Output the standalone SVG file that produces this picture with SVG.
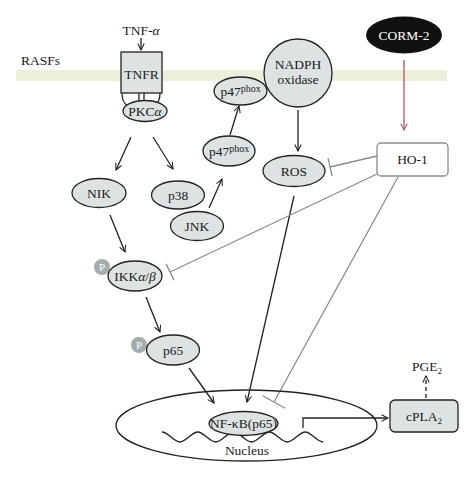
<svg xmlns="http://www.w3.org/2000/svg" width="474" height="478" viewBox="0 0 474 478">
<style>
text{font-family:"Liberation Serif","DejaVu Serif",serif;font-size:13.5px;fill:#1a1a1a;text-anchor:middle}
.n{fill:#dde3e2;stroke:#222;stroke-width:1.3}
.a{fill:none;stroke:#222;stroke-width:1.3;marker-end:url(#ah)}
.g{fill:none;stroke:#8c8c8c;stroke-width:1.3}
.sup{font-size:10px}
.p{fill:#a3adab}
.pt{fill:#fff;font-size:11px}
</style>
<defs>
<marker id="ah" viewBox="0 0 10 10" refX="9" refY="5" markerWidth="8" markerHeight="8" markerUnits="userSpaceOnUse" orient="auto">
<path d="M1,1 L9,5 L1,9" fill="none" stroke="#222" stroke-width="1.3"/>
</marker>
<marker id="ahr" viewBox="0 0 10 10" refX="9" refY="5" markerWidth="8" markerHeight="8" markerUnits="userSpaceOnUse" orient="auto">
<path d="M1,1 L9,5 L1,9" fill="none" stroke="#c0505a" stroke-width="1.3"/>
</marker>
</defs>
<rect id="membrane" x="16" y="70" width="431" height="11" fill="#edefdd"/>
<text x="21" y="65" style="text-anchor:start">RASFs</text>
<g id="connectors">
<path class="a" d="M141,38 V50"/>
<path class="a" d="M131,137 L116,170"/>
<path class="a" d="M153,137 L173,169"/>
<path class="a" d="M209,208 L222,179"/>
<path class="a" d="M230,135 L239,106"/>
<path class="a" d="M298,110 V151"/>
<path class="a" d="M110,215 L125,252"/>
<path class="a" d="M146,297 L160,332"/>
<path class="a" d="M189,368 L214,403"/>
<path class="a" d="M294,196 L247,402"/>
<path d="M404,60 V130" fill="none" stroke="#c0505a" stroke-width="1.3" marker-end="url(#ahr)"/>
<path class="g" d="M377,156 L330,167 M328,158.2 L332,175.8"/>
<path class="g" d="M377,174 L170,272 M166.1,263.9 L173.9,280.1"/>
<path class="g" d="M398,177 L274,402 M262.6,395.7 L285.4,408.3"/>
<path class="a" d="M303,428 V418 H388"/>
<path class="a" d="M426,398 V376" stroke-dasharray="4,3"/>
</g>
<g id="TNF">
<text x="141" y="35">TNF-<tspan font-style="italic">α</tspan></text>
</g>
<g id="TNFR">
<path d="M122,93 C122,102 126,106 131,106 M160,93 C160,101 157,104 154,105 M139,93 V101 M144,93 V101" fill="none" stroke="#222" stroke-width="1.3"/>
<rect class="n" x="121" y="52" width="41" height="41"/>
<text x="141.5" y="79">TNFR</text>
</g>
<g id="PKC">
<ellipse class="n" cx="145" cy="111" rx="22" ry="10.5"/>
<text x="145" y="115.5">PKC<tspan font-style="italic">α</tspan></text>
</g>
<g id="NIK">
<ellipse class="n" cx="99" cy="193" rx="27" ry="14.5"/>
<text x="99" y="197.5">NIK</text>
</g>
<g id="p38">
<ellipse class="n" cx="178" cy="195" rx="26.5" ry="14"/>
<text x="178" y="199.5">p38</text>
</g>
<g id="JNK">
<ellipse class="n" cx="197" cy="226" rx="26.5" ry="14.5"/>
<text x="197" y="230.5">JNK</text>
</g>
<g id="p47phox-low">
<ellipse class="n" cx="229" cy="151" rx="26" ry="15"/>
<text x="229" y="156">p47<tspan class="sup" dy="-4">phox</tspan></text>
</g>
<g id="p47phox-up">
<ellipse class="n" cx="240.5" cy="91" rx="26.5" ry="14"/>
<text x="240.5" y="96">p47<tspan class="sup" dy="-4">phox</tspan></text>
</g>
<g id="NADPH">
<circle class="n" cx="298" cy="73" r="34"/>
<text x="298" y="69">NADPH</text>
<text x="298" y="84">oxidase</text>
</g>
<g id="ROS">
<ellipse class="n" cx="294" cy="171" rx="31" ry="15.5"/>
<text x="294" y="175.5">ROS</text>
</g>
<g id="CORM-2">
<ellipse cx="404" cy="35" rx="38" ry="18.5" fill="#111"/>
<text x="404" y="39.5" style="fill:#fff">CORM-2</text>
</g>
<g id="HO-1">
<rect x="377" y="143" width="71" height="33" rx="4" fill="#fff" stroke="#8c8c8c" stroke-width="1.3"/>
<text x="412.5" y="164">HO-1</text>
</g>
<g id="IKK">
<circle class="p" cx="102" cy="267" r="8"/>
<text class="pt" x="102" y="271">P</text>
<ellipse class="n" cx="135" cy="276" rx="27" ry="15"/>
<text x="135" y="280.5">IKK<tspan font-style="italic">α</tspan>/<tspan font-style="italic">β</tspan></text>
</g>
<g id="p65">
<circle class="p" cx="139" cy="345" r="8"/>
<text class="pt" x="139" y="349">P</text>
<ellipse class="n" cx="173" cy="350" rx="26.5" ry="15"/>
<text x="173" y="354.5">p65</text>
</g>
<g id="Nucleus">
<ellipse cx="246.5" cy="425.5" rx="130.5" ry="35.5" fill="none" stroke="#222" stroke-width="1.3"/>
<path d="M162,432 c6,0 12,10 17.9,10 s11.9,-10 17.9,-10 s11.9,10 17.9,10 s11.9,-10 17.9,-10 s11.9,10 17.9,10 s11.9,-10 17.9,-10 s11.9,10 17.9,10 s11.9,-10 17.9,-10 s11.9,10 17.9,10" fill="none" stroke="#222" stroke-width="1.3"/>
<text x="247" y="455">Nucleus</text>
</g>
<g id="NFkB">
<ellipse class="n" cx="243.5" cy="423.5" rx="34.5" ry="12"/>
<text x="243.5" y="428">NF-κB(p65)</text>
</g>
<g id="cPLA2">
<rect class="n" x="390" y="400" width="68" height="32" rx="5"/>
<text x="424" y="421">cPLA<tspan font-size="9" dy="3">2</tspan></text>
</g>
<g id="PGE2">
<text x="427" y="371">PGE<tspan font-size="9" dy="3">2</tspan></text>
</g>
</svg>
